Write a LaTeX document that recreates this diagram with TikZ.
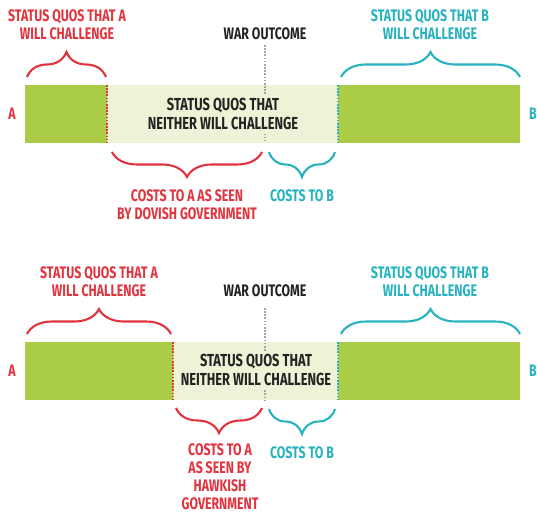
\documentclass[tikz,border=0pt]{standalone}
\usepackage{fontspec}
\usetikzlibrary{decorations.pathreplacing}
\newfontfamily\dinfont{Fira Sans}[FakeStretch=0.74]
\definecolor{sqgreen}{RGB}{170,204,70}
\definecolor{sqpale}{RGB}{236,243,214}
\definecolor{sqred}{RGB}{226,52,62}
\definecolor{sqcyan}{RGB}{38,178,190}
\definecolor{sqgray}{RGB}{165,165,165}
\definecolor{sqink}{RGB}{35,35,35}

\begin{document}
\begin{tikzpicture}[x=0.02cm, y=-0.02cm]
    \tikzstyle{lbl}=[align=center, inner sep=0pt, font=\dinfont\bfseries\fontsize{9.5}{10.2}\selectfont]
    \tikzstyle{red label}=[lbl, text=sqred]
    \tikzstyle{cyan label}=[lbl, text=sqcyan]
    \tikzstyle{ink label}=[lbl, text=sqink]
    \tikzstyle{neither}=[ink label, fill=sqpale, inner sep=2pt, font=\dinfont\bfseries\fontsize{9.9}{10.9}\selectfont]
    \tikzstyle{curly}=[decorate, decoration={brace, amplitude=0.5cm}, line width=1.2pt]
    \tikzstyle{split}=[line width=1.1pt, dash pattern=on 0.9pt off 0.9pt]

    \useasboundingbox (0,0) rectangle (537,514);

    % Draw the parts both panels share
    \foreach \p/\yo/\sx/\wy in {1/0/107/45, 2/257/173/51}
    {
        \coordinate (bar-\p-nw) at (25,85+\yo);
        \coordinate (bar-\p-se) at (520,143+\yo);
        \fill[sqgreen] (bar-\p-nw) rectangle (bar-\p-se);
        \fill[sqpale] (\sx,85+\yo) rectangle (338,143+\yo);
        \draw[split, sqred] (\sx,85+\yo) -- (\sx,143+\yo);
        \draw[split, sqcyan] (338,85+\yo) -- (338,143+\yo);

        \node[ink label] (war-\p) at (265,34+\yo) {WAR OUTCOME};
        \draw[split, sqgray] (265,\wy+\yo) -- (265,143+\yo);

        \node[red label] (a-\p) at (12,114+\yo) {A};
        \node[cyan label] (b-\p) at (533,114+\yo) {B};

        % B side, above and below the bar
        \node[cyan label] (bwill-\p) at (430,25+\yo) {STATUS QUOS THAT B\\WILL CHALLENGE};
        \draw[curly, sqcyan] (341,77+\yo) -- (520,77+\yo);
        \draw[curly, sqcyan] (335,152+\yo) -- (269,152+\yo);
        \node[cyan label] (bcost-\p) at (302,196+\yo) {COSTS TO B};
    }

    % Dovish government (top)
    \node[red label] (awill-1) at (67,25) {STATUS QUOS THAT A\\WILL CHALLENGE};
    \draw[curly, sqred] (27,77) -- (106,77);
    \node[neither] (neither-1) at (223,114) {STATUS QUOS THAT\\NEITHER WILL CHALLENGE};
    \draw[curly, sqred] (262,152) -- (112,152);
    \node[red label] (acost-1) at (187,205) {COSTS TO A  AS SEEN\\BY DOVISH GOVERNMENT};

    % Hawkish government (bottom)
    \node[red label] (awill-2) at (99,282) {STATUS QUOS THAT A\\WILL CHALLENGE};
    \draw[curly, sqred] (27,334) -- (171,334);
    \node[neither] (neither-2) at (256,370) {STATUS QUOS THAT\\NEITHER WILL CHALLENGE};
    \draw[curly, sqred] (262,408) -- (176,408);
    \node[red label] (acost-2) at (220,477) {COSTS TO A\\AS SEEN BY\\HAWKISH\\GOVERNMENT};
\end{tikzpicture}
\end{document}
